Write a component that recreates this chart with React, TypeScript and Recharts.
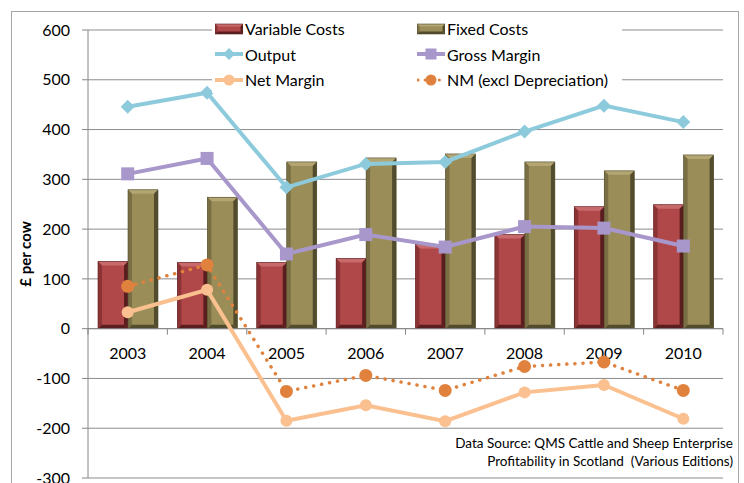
import { ComposedChart, Bar, Line, XAxis, YAxis, CartesianGrid, Legend, ReferenceLine, ReferenceDot } from 'recharts';

const years = ['2003', '2004', '2005', '2006', '2007', '2008', '2009', '2010'];
const variableCosts = [135, 133, 133, 141, 169, 189, 245, 249];
const fixedCosts = [279, 264, 335, 343, 351, 335, 317, 349];
const output = [446, 474, 284, 331, 335, 396, 448, 415];
const grossMargin = [311, 342, 150, 189, 164, 205, 202, 166];
const netMargin = [33, 78, -185, -154, -186, -128, -113, -181];
const nmExclDep = [85, 128, -126, -94, -124, -76, -67, -124];
const yTicks = [-300, -200, -100, 0, 100, 200, 300, 400, 500, 600];

const data = years.map((year, i) => ({
  year,
  variable: variableCosts[i],
  fixed: fixedCosts[i],
  output: output[i],
  gross: grossMargin[i],
  net: netMargin[i],
  nm: nmExclDep[i],
}));

const FONT = 'Lato, "Noto Sans", sans-serif';
const AXIS = '#868686';

const RED = { face: '#B0484A', light: '#C86A6C', mid: '#8C3335', dark: '#5A1E1F' };
const OLIVE = { face: '#9B8D58', light: '#B3A672', mid: '#7A6F44', dark: '#524C2E' };
const C_OUTPUT = '#8DCBDC';
const C_GROSS = '#A897CB';
const C_NET = '#FAC08F';
const C_NM = '#E0823D';

const CHART_W = 744;
const MARGIN = { top: 30, right: 21, bottom: 5, left: 0 };
const Y_W = 88;
const HALF_BAND = (CHART_W - MARGIN.right - MARGIN.left - Y_W) / years.length / 2;

type Tone = typeof RED;

function bevel(x: number, y: number, w: number, h: number, c: Tone, b = 4) {
  if (!h || h <= 0) return null;
  const bb = Math.min(b, h / 2, w / 2);
  return (
    <g>
      <rect x={x} y={y} width={w} height={h} fill={c.face} />
      <polygon points={`${x},${y} ${x + w},${y} ${x + w - bb},${y + bb} ${x + bb},${y + bb}`} fill={c.light} />
      <polygon points={`${x},${y} ${x + bb},${y + bb} ${x + bb},${y + h - bb} ${x},${y + h}`} fill={c.mid} />
      <polygon points={`${x + w},${y} ${x + w},${y + h} ${x + w - bb},${y + h - bb} ${x + w - bb},${y + bb}`} fill={c.dark} />
      <polygon points={`${x},${y + h} ${x + w},${y + h} ${x + w - bb},${y + h - bb} ${x + bb},${y + h - bb}`} fill={c.dark} />
      <rect x={x} y={y} width={w} height={h} fill="none" stroke={c.dark} strokeWidth={0.6} />
    </g>
  );
}

const redBar = (p: any) => bevel(p.x, p.y, p.width, p.height, RED);
const oliveBar = (p: any) => bevel(p.x, p.y, p.width, p.height, OLIVE);

function diamond(cx: number, cy: number, color: string, s = 7) {
  return <polygon points={`${cx},${cy - s} ${cx + s},${cy} ${cx},${cy + s} ${cx - s},${cy}`} fill={color} />;
}

const outputDot = (p: any) => <g key={`o${p.index}`}>{diamond(p.cx, p.cy, C_OUTPUT)}</g>;
const grossDot = (p: any) => <rect key={`g${p.index}`} x={p.cx - 6.5} y={p.cy - 6.5} width={13} height={13} fill={C_GROSS} />;
const netDot = (p: any) => <circle key={`n${p.index}`} cx={p.cx} cy={p.cy} r={6} fill={C_NET} />;
const nmDot = (p: any) => <circle key={`m${p.index}`} cx={p.cx} cy={p.cy} r={6.5} fill={C_NM} />;

function YearMark(props: any) {
  const { cx, cy, label, last } = props;
  return (
    <g>
      <line x1={cx - HALF_BAND} y1={cy} x2={cx - HALF_BAND} y2={cy + 6} stroke={AXIS} />
      {last && <line x1={cx + HALF_BAND} y1={cy} x2={cx + HALF_BAND} y2={cy + 6} stroke={AXIS} />}
      <text x={cx} y={cy + 24} textAnchor="middle" dominantBaseline="central" fontFamily={FONT} fontSize={16} fill="#000">
        {label}
      </text>
    </g>
  );
}

function LegendIcon({ kind }: { kind: string }) {
  let body = null;
  if (kind === 'variable') body = bevel(0, 2, 28, 10, RED, 2.5);
  else if (kind === 'fixed') body = bevel(0, 2, 28, 10, OLIVE, 2.5);
  else if (kind === 'output')
    body = (
      <g>
        <line x1={0} y1={7} x2={28} y2={7} stroke={C_OUTPUT} strokeWidth={4} />
        {diamond(14, 7, C_OUTPUT, 6)}
      </g>
    );
  else if (kind === 'gross')
    body = (
      <g>
        <line x1={0} y1={7} x2={28} y2={7} stroke={C_GROSS} strokeWidth={4} />
        <rect x={8.5} y={1.5} width={11} height={11} fill={C_GROSS} />
      </g>
    );
  else if (kind === 'net')
    body = (
      <g>
        <line x1={0} y1={7} x2={28} y2={7} stroke={C_NET} strokeWidth={4} />
        <circle cx={14} cy={7} r={5.5} fill={C_NET} />
      </g>
    );
  else
    body = (
      <g>
        <line x1={1} y1={7} x2={28} y2={7} stroke={C_NM} strokeWidth={3} strokeDasharray="0.1 7" strokeLinecap="round" />
        <circle cx={14} cy={7} r={5.5} fill={C_NM} />
      </g>
    );
  return (
    <svg width={28} height={14} style={{ display: 'block', marginRight: 2 }}>
      {body}
    </svg>
  );
}

const legendItems = [
  { kind: 'variable', label: 'Variable Costs' },
  { kind: 'fixed', label: 'Fixed Costs' },
  { kind: 'output', label: 'Output' },
  { kind: 'gross', label: 'Gross Margin' },
  { kind: 'net', label: 'Net Margin' },
  { kind: 'nm', label: 'NM (excl Depreciation)' },
];

function renderLegend() {
  return (
    <div
      style={{
        display: 'grid',
        gridTemplateColumns: '202px auto',
        gridAutoRows: '25.5px',
        padding: '0 0 0 3px',
        background: '#fff',
        fontFamily: FONT,
        fontSize: 16,
        color: '#000',
      }}
    >
      {legendItems.map((it) => (
        <div key={it.kind} style={{ display: 'flex', alignItems: 'center', whiteSpace: 'nowrap' }}>
          <LegendIcon kind={it.kind} />
          <span>{it.label}</span>
        </div>
      ))}
    </div>
  );
}

function yLabel(props: any) {
  const vb = props.viewBox || { x: 0, y: 0, height: 0 };
  const x = vb.x + 25;
  const y = vb.y + vb.height / 2;
  return (
    <text x={x} y={y} transform={`rotate(-90 ${x} ${y})`} textAnchor="middle" dominantBaseline="central" fontFamily={FONT} fontSize={15} fontWeight="bold" fill="#000">
      £ per cow
    </text>
  );
}

export default function App() {
  return (
    <div style={{ position: 'absolute', left: 0, top: 0, width: 744, height: 483, overflow: 'hidden', background: '#fff' }}>
      <div style={{ position: 'absolute', left: 11, top: 11, width: 726, height: 600, border: '1px solid #A6A6A6' }} />
      <ComposedChart width={CHART_W} height={483} data={data} margin={MARGIN} barGap={0} style={{ position: 'absolute', left: 0, top: 0 }}>
        <CartesianGrid vertical={false} stroke="#8C8C8C" />
        <XAxis dataKey="year" hide />
        <YAxis
          domain={[-300, 600]}
          ticks={yTicks}
          width={Y_W}
          interval={0}
          tickSize={6}
          tickMargin={12}
          axisLine={{ stroke: AXIS }}
          tickLine={{ stroke: AXIS }}
          tick={{ fontFamily: FONT, fontSize: 16, fill: '#000' }}
          label={{ content: yLabel }}
        />
        <Legend
          layout="vertical"
          align="center"
          verticalAlign="middle"
          content={renderLegend}
          wrapperStyle={{ position: 'absolute', left: 212, top: 16, width: 410, height: 77, background: '#fff' }}
        />
        <ReferenceLine y={0} stroke={AXIS} />
        <Bar dataKey="variable" name="Variable Costs" barSize={30} shape={redBar} isAnimationActive={false} />
        <Bar dataKey="fixed" name="Fixed Costs" barSize={30} shape={oliveBar} isAnimationActive={false} />
        <Line dataKey="output" name="Output" stroke={C_OUTPUT} strokeWidth={4} dot={outputDot} activeDot={false} isAnimationActive={false} />
        <Line dataKey="gross" name="Gross Margin" stroke={C_GROSS} strokeWidth={4} dot={grossDot} activeDot={false} isAnimationActive={false} />
        <Line dataKey="net" name="Net Margin" stroke={C_NET} strokeWidth={4} dot={netDot} activeDot={false} isAnimationActive={false} />
        <Line
          dataKey="nm"
          name="NM (excl Depreciation)"
          stroke={C_NM}
          strokeWidth={3.5}
          strokeDasharray="0.1 8"
          strokeLinecap="round"
          dot={nmDot}
          activeDot={false}
          isAnimationActive={false}
        />
        {years.map((yr, i) => (
          <ReferenceDot
            key={yr}
            x={yr}
            y={0}
            r={0}
            ifOverflow="visible"
            shape={(p: any) => <YearMark {...p} label={yr} last={i === years.length - 1} />}
          />
        ))}
      </ComposedChart>
      <div
        style={{
          position: 'absolute',
          right: 11,
          top: 434,
          textAlign: 'right',
          fontFamily: FONT,
          fontSize: 13.5,
          lineHeight: '18px',
          color: '#000',
          whiteSpace: 'pre',
        }}
      >
        {'Data Source: QMS Cattle and Sheep Enterprise\nProfitability in Scotland  (Various Editions)'}
      </div>
    </div>
  );
}
